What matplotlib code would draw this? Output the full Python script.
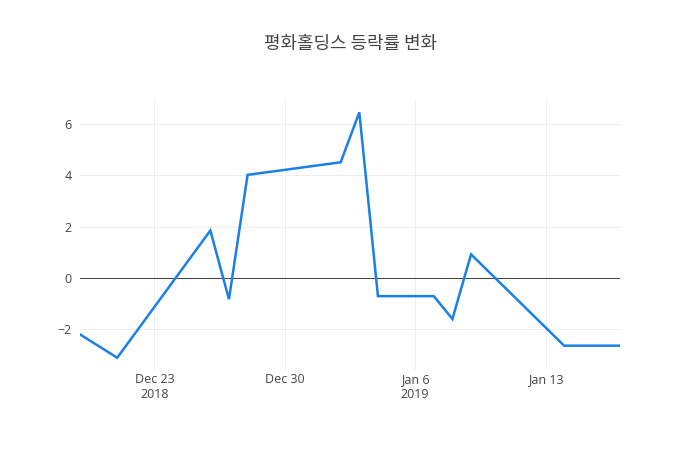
import numpy as np
import pandas as pd
import matplotlib
matplotlib.use('Agg')
import matplotlib.pyplot as plt

# data --------------------------------------------------------
dates = ['2018-12-19', '2018-12-21', '2018-12-26', '2018-12-27', '2018-12-28',
         '2019-01-02', '2019-01-03', '2019-01-04', '2019-01-07', '2019-01-08',
         '2019-01-09', '2019-01-14', '2019-01-17']
change = [-2.20, -3.11, 1.85, -0.83, 4.02,
          4.51, 6.46, -0.71, -0.71, -1.60,
          0.92, -2.64, -2.64]

title = '평화홀딩스 등락률 변화'
xtick_dates = ['2018-12-23', '2018-12-30', '2019-01-06', '2019-01-13']
xtick_labels = ['Dec 23\n2018', 'Dec 30', 'Jan 6\n2019', 'Jan 13']
yticks = [-2, 0, 2, 4, 6]

x = pd.to_datetime(dates)
y = np.array(change)

plt.rcParams['font.family'] = ['Open Sans', 'Noto Sans CJK KR', 'DejaVu Sans']

px = 72 / 100  # plotly px -> pt
fig = plt.figure(figsize=(7, 4.5), dpi=100)
ax = fig.add_axes([80 / 700, 80 / 450, 540 / 700, 270 / 450])

ax.plot(x, y, color='#1a80e5', lw=2.5 * px, solid_joinstyle='miter', zorder=3)
ax.axhline(0, color='#444444', lw=1 * px, zorder=2)

ax.set_xlim(x.min(), x.max())
pad = (y.max() - y.min()) * 0.05
ax.set_ylim(y.min() - pad, y.max() + pad)

ax.set_xticks(pd.to_datetime(xtick_dates))
ax.set_xticklabels(xtick_labels)
ax.set_yticks(yticks)
ax.set_yticklabels([str(v).replace('-', '\u2212') for v in yticks])

ax.grid(True, color='#eeeeee', lw=1 * px)
ax.set_axisbelow(True)
for s in ax.spines.values():
    s.set_visible(False)
ax.tick_params(length=0, labelsize=12.5 * px, labelcolor='#444444', pad=6)
ax.tick_params(axis='x', pad=2)
for lab in ax.get_xticklabels():
    lab.set_linespacing(1.25)

fig.text(0.5, 1 - 44 / 450, title, ha='center', va='center',
         fontsize=18 * px, color='#444444',
         family=['Noto Sans CJK KR', 'DejaVu Sans'])

fig.savefig('out.png', dpi=100, facecolor='white')
